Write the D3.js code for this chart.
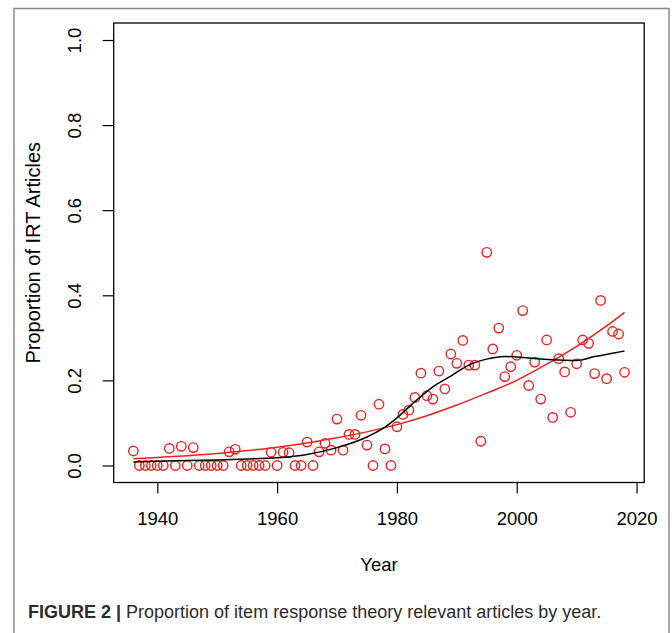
<!DOCTYPE html>
<html>
<head>
<meta charset="utf-8">
<script src="https://d3js.org/d3.v7.min.js"></script>
<style>
  body { margin: 0; background: #fff; }
  svg { display: block; font-family: "Liberation Sans", Arial, Helvetica, sans-serif; }
</style>
</head>
<body>
<script>
// yearly proportions, 1936..2018
var years = d3.range(1936, 2019)
var props = [
  0.034, 0, 0, 0, 0, 0, 0.040, 0, 0.045, 0,          // 1936-1945
  0.042, 0, 0, 0, 0, 0, 0.032, 0.038, 0, 0,          // 1946-1955
  0, 0, 0, 0.031, 0, 0.031, 0.030, 0, 0, 0.055,      // 1956-1965
  0, 0.032, 0.052, 0.036, 0.109, 0.036, 0.073, 0.073, 0.118, 0.048, // 1966-1975
  0, 0.144, 0.039, 0, 0.091, 0.120, 0.130, 0.160, 0.217, 0.164,     // 1976-1985
  0.156, 0.222, 0.180, 0.262, 0.240, 0.294, 0.236, 0.236, 0.057, 0.501, // 1986-1995
  0.274, 0.323, 0.209, 0.232, 0.259, 0.364, 0.188, 0.243, 0.156, 0.295, // 1996-2005
  0.113, 0.251, 0.220, 0.125, 0.239, 0.295, 0.287, 0.216, 0.388, 0.204, // 2006-2015
  0.315, 0.309, 0.219                                   // 2016-2018
]

// black smooth curve, read at a few years
var smoothYears = [1936, 1940, 1945, 1950, 1955, 1960, 1965, 1970, 1975, 1978, 1980, 1983, 1986, 1989, 1992, 1995, 1998, 2001, 2004, 2007, 2010, 2013, 2016, 2018]
var smoothVals  = [0.008, 0.010, 0.012, 0.013, 0.015, 0.018, 0.026, 0.042, 0.067, 0.090, 0.112, 0.150, 0.185, 0.210, 0.236, 0.250, 0.256, 0.254, 0.250, 0.248, 0.247, 0.256, 0.264, 0.269]

// red fitted curve
var fitYears = [1936, 1940, 1945, 1950, 1955, 1960, 1965, 1970, 1975, 1980, 1985, 1990, 1995, 2000, 2005, 2010, 2015, 2018]
var fitVals  = [0.016, 0.019, 0.023, 0.028, 0.035, 0.043, 0.053, 0.065, 0.079, 0.096, 0.117, 0.142, 0.170, 0.200, 0.238, 0.280, 0.328, 0.360]

var xTicks = [1940, 1960, 1980, 2000, 2020]
var yTicks = [0, 0.2, 0.4, 0.6, 0.8, 1.0]

var W = 672, H = 633
var box = { left: 113.7, right: 644.2, top: 23, bottom: 482.5 }

var svg = d3.select("body").append("svg")
    .attr("width", W)
    .attr("height", H)

// figure frame
svg.append("path")
    .attr("d", "M14,640 L14,8.5 L669,8.5 L669,640")
    .attr("fill", "none")
    .attr("stroke", "#8a8a8a")
    .attr("stroke-width", 1.5)

var x = d3.scaleLinear().domain([1932.72, 2021.28]).range([box.left, box.right])
var y = d3.scaleLinear().domain([-0.04, 1.04]).range([box.bottom, box.top])

var red = "#ee1f1f"

// x axis
var gx = svg.append("g")
    .attr("transform", "translate(0," + box.bottom + ")")
    .call(d3.axisBottom(x).tickValues(xTicks).tickSize(11).tickFormat(d3.format("d")))
gx.select(".domain").remove()
gx.selectAll("line").attr("stroke", "#000").attr("stroke-width", 1.2)
gx.selectAll("text")
    .attr("dy", 0).attr("y", 42)
    .style("font-size", "18.5px").attr("fill", "#000")

// y axis
var gy = svg.append("g")
    .attr("transform", "translate(" + box.left + ",0)")
    .call(d3.axisLeft(y).tickValues(yTicks).tickSize(11).tickFormat(d3.format(".1f")))
gy.select(".domain").remove()
gy.selectAll("line").attr("stroke", "#000").attr("stroke-width", 1.2)
gy.selectAll("text")
    .attr("x", 0).attr("dy", 0)
    .attr("text-anchor", "middle")
    .attr("transform", "translate(-33,0) rotate(-90)")
    .style("font-size", "18.5px").attr("fill", "#000")

// plot box
svg.append("rect")
    .attr("x", box.left).attr("y", box.top)
    .attr("width", box.right - box.left).attr("height", box.bottom - box.top)
    .attr("fill", "none").attr("stroke", "#000").attr("stroke-width", 1.3)

// points
svg.append("g").selectAll("circle")
    .data(years)
    .enter().append("circle")
    .attr("cx", function (d) { return x(d) })
    .attr("cy", function (d, i) { return y(props[i]) })
    .attr("r", 4.7)
    .attr("fill", "none")
    .attr("stroke", red)
    .attr("stroke-width", 1.4)

var line = function (xs, vs) {
  return d3.line()
      .x(function (d, i) { return x(xs[i]) })
      .y(function (d) { return y(d) })
      .curve(d3.curveMonotoneX)(vs)
}

svg.append("path")
    .attr("d", line(fitYears, fitVals))
    .attr("fill", "none").attr("stroke", red).attr("stroke-width", 1.5)

svg.append("path")
    .attr("d", line(smoothYears, smoothVals))
    .attr("fill", "none").attr("stroke", "#000").attr("stroke-width", 1.5)

// axis titles
svg.append("text")
    .attr("x", (box.left + box.right) / 2).attr("y", 571)
    .attr("text-anchor", "middle")
    .style("font-size", "18.5px")
    .text("Year")

svg.append("text")
    .attr("transform", "translate(40," + ((box.top + box.bottom) / 2) + ") rotate(-90)")
    .attr("text-anchor", "middle")
    .style("font-size", "20px")
    .text("Proportion of IRT Articles")

// caption
var cap = svg.append("text")
    .attr("x", 28).attr("y", 618)
    .style("font-size", "18px")
    .attr("fill", "#2b2b2b")
cap.append("tspan").style("font-weight", "bold").text("FIGURE 2 | ")
cap.append("tspan").text("Proportion of item response theory relevant articles by year.")
</script>
</body>
</html>
